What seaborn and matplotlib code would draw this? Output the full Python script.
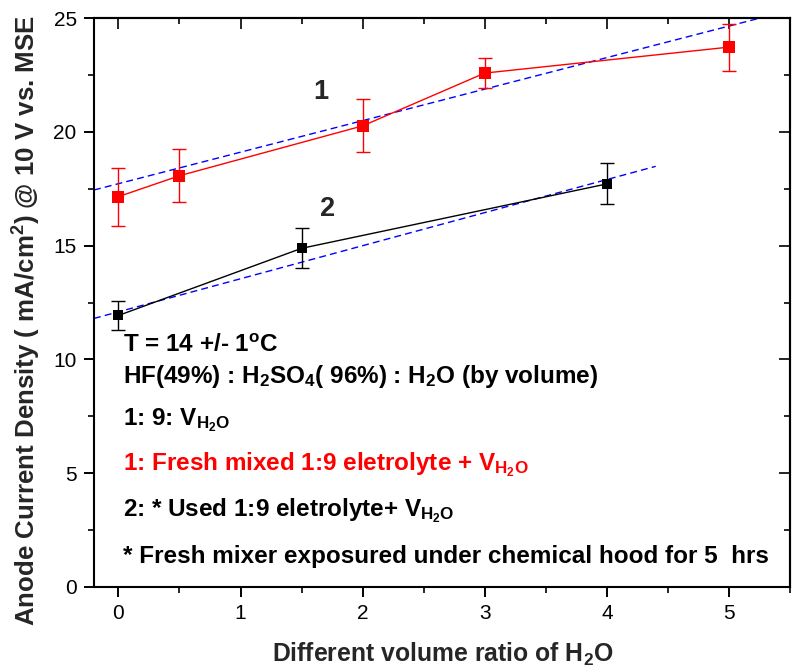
import numpy as np
import pandas as pd
import matplotlib
matplotlib.use("Agg")
import matplotlib.pyplot as plt
from matplotlib.ticker import MultipleLocator
import seaborn as sns

# Series 1: fresh mixed 1:9 electrolyte
x_fresh = [0, 0.5, 2, 3, 5]
y_fresh = [17.15, 18.07, 20.26, 22.58, 23.72]
err_fresh = [1.28, 1.16, 1.16, 0.65, 1.03]

# Series 2: used 1:9 electrolyte
x_used = [0, 1.5, 4]
y_used = [11.93, 14.88, 17.71]
err_used = [0.63, 0.88, 0.90]

# Linear fits (slope, intercept) and their drawn x ranges
fit_fresh = (1.385, 17.72)
fit_fresh_x = [-0.2, 5.5]
fit_used = (1.453, 12.09)
fit_used_x = [-0.2, 4.4]

x_ticks = [0, 1, 2, 3, 4, 5]
y_ticks = [0, 5, 10, 15, 20, 25]

sns.set_theme(style="ticks")
plt.rcParams["font.family"] = ["Liberation Sans", "DejaVu Sans"]
plt.rcParams["mathtext.fontset"] = "custom"
plt.rcParams["mathtext.rm"] = "Liberation Sans:bold"
plt.rcParams["mathtext.bf"] = "Liberation Sans:bold"
plt.rcParams["mathtext.default"] = "regular"

W, H = 792, 672
fig = plt.figure(figsize=(W / 100, H / 100), dpi=100)
ax = fig.add_axes([94 / W, 1 - 587 / H, (790 - 94) / W, (587 - 18) / H])


def px(x, y):
    return x / W, 1 - y / H


df_fresh = pd.DataFrame({"x": x_fresh, "y": y_fresh})
df_used = pd.DataFrame({"x": x_used, "y": y_used})

fx = np.array(fit_fresh_x)
ux = np.array(fit_used_x)
df_fit_fresh = pd.DataFrame({"x": fx, "y": fit_fresh[0] * fx + fit_fresh[1]})
df_fit_used = pd.DataFrame({"x": ux, "y": fit_used[0] * ux + fit_used[1]})

for d in (df_fit_fresh, df_fit_used):
    sns.lineplot(data=d, x="x", y="y", ax=ax, color="#0000FF", lw=1.0,
                 linestyle=(0, (5, 3)), zorder=2)

ax.errorbar(x_fresh, y_fresh, yerr=err_fresh, fmt="none", ecolor="#FF0000",
            elinewidth=1.0, capsize=5, capthick=1.0, zorder=3)
ax.errorbar(x_used, y_used, yerr=err_used, fmt="none", ecolor="#000000",
            elinewidth=1.0, capsize=5, capthick=1.0, zorder=3)

sns.lineplot(data=df_fresh, x="x", y="y", ax=ax, color="#FF0000", lw=1.0,
             marker="s", markersize=8, markeredgewidth=0, zorder=4)
sns.lineplot(data=df_used, x="x", y="y", ax=ax, color="#000000", lw=1.0,
             marker="s", markersize=7.5, markeredgewidth=0, zorder=4)

ax.set_xlim(-0.2, 5.5)
ax.set_ylim(0, 25)
ax.set_xticks(x_ticks)
ax.set_yticks(y_ticks)
ax.xaxis.set_minor_locator(MultipleLocator(0.5))
ax.yaxis.set_minor_locator(MultipleLocator(2.5))
ax.set_xlabel("")
ax.set_ylabel("")
for s in ax.spines.values():
    s.set_linewidth(1.5)
    s.set_color("black")
    s.set_visible(True)
ax.tick_params(which="major", direction="out", length=7.5, width=1.4,
               labelsize=15, pad=5, colors="black")
ax.tick_params(which="minor", direction="out", length=4, width=1.4)

# inward ticks mirrored on the top and right edges
sec_x = ax.secondary_xaxis("top")
sec_x.set_xticks(x_ticks)
sec_x.xaxis.set_minor_locator(MultipleLocator(0.5))
sec_x.tick_params(which="major", direction="in", length=8, width=1.4, labeltop=False)
sec_x.tick_params(which="minor", direction="in", length=4.5, width=1.4)
sec_x.spines["top"].set_linewidth(1.5)
sec_y = ax.secondary_yaxis("right")
sec_y.set_yticks(y_ticks)
sec_y.yaxis.set_minor_locator(MultipleLocator(2.5))
sec_y.tick_params(which="major", direction="in", length=8, width=1.4, labelright=False)
sec_y.tick_params(which="minor", direction="in", length=4.5, width=1.4)
sec_y.spines["right"].set_linewidth(1.5)

# series labels
ax.text(*px(321, 92), "1", transform=fig.transFigure, fontsize=19.5,
        fontweight="bold", ha="center", va="center")
ax.text(*px(328, 209), "2", transform=fig.transFigure, fontsize=19.5,
        fontweight="bold", ha="center", va="center")

notes = [
    (352, r"T = 14 +/- 1$^{o}$C", "black"),
    (383, r"HF(49%) : H$_2$SO$_4$( 96%) : H$_2$O (by volume)", "black"),
    (425, r"1: 9: V$_{H_2O}$", "black"),
    (470, r"1: Fresh mixed 1:9 eletrolyte + V$_{H_2O}$", "#FF0000"),
    (516, r"2: * Used 1:9 eletrolyte+ V$_{H_2O}$", "black"),
    (563, r"* Fresh mixer exposured under chemical hood for 5  hrs", "black"),
]
for ybase, txt, col in notes:
    fig.text(*px(123, ybase), txt, fontsize=17.5, fontweight="bold",
             color=col, ha="left", va="baseline")

fig.text(*px(443, 662), r"Different volume ratio of H$_2$O", fontsize=17.8,
         fontweight="bold", ha="center", va="baseline")
fig.text(*px(27, 321), r"Anode Current Density ( mA/cm$^2$) @ 10 V vs. MSE",
         fontsize=18.6, fontweight="bold", ha="center", va="center", rotation=90)

fig.savefig("out.png", dpi=100)
